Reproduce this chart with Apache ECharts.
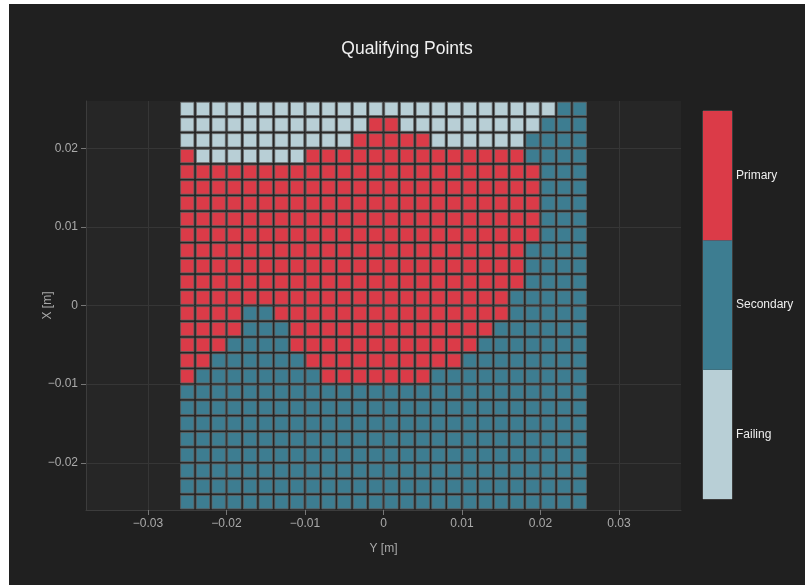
<!DOCTYPE html>
<html><head><meta charset="utf-8">
<script src="https://cdn.jsdelivr.net/npm/echarts@6/dist/echarts.min.js"></script>
<style>
html,body{margin:0;padding:0;background:#ffffff;}
#chart{position:absolute;left:9px;top:4px;width:796px;height:581px;}
</style></head><body><div id="chart"></div>
<script>
// Category labels (index 0,1,2) and codes used in the grid rows
const categories = ['Failing', 'Secondary', 'Primary'];
const categoryCodes = ['F', 'S', 'P'];
const categoryColors = ['#b8cfd6', '#3d7d91', '#db3b48'];

// Cell centres along Y [m] (horizontal axis)
const yPositions = [-0.025, -0.023, -0.021, -0.019, -0.017, -0.015, -0.013, -0.011, -0.009, -0.007, -0.005, -0.003, -0.001,
                     0.001, 0.003, 0.005, 0.007, 0.009, 0.011, 0.013, 0.015, 0.017, 0.019, 0.021, 0.023, 0.025];
// Cell centres along X [m] (vertical axis), top row first
const xPositions = [0.025, 0.023, 0.021, 0.019, 0.017, 0.015, 0.013, 0.011, 0.009, 0.007, 0.005, 0.003, 0.001,
                    -0.001, -0.003, -0.005, -0.007, -0.009, -0.011, -0.013, -0.015, -0.017, -0.019, -0.021, -0.023, -0.025];
const cellSize = 0.002;

// Classification of each point: one string per row (top to bottom), one char per column (left to right)
const gridRows = [
  'FFFFFFFFFFFFFFFFFFFFFFFFSS',
  'FFFFFFFFFFFFPPFFFFFFFFFSSS',
  'FFFFFFFFFFFPPPPPFFFFFFSSSS',
  'PFFFFFFFPPPPPPPPPPPPPPSSSS',
  'PPPPPPPPPPPPPPPPPPPPPPPSSS',
  'PPPPPPPPPPPPPPPPPPPPPPPSSS',
  'PPPPPPPPPPPPPPPPPPPPPPPSSS',
  'PPPPPPPPPPPPPPPPPPPPPPPSSS',
  'PPPPPPPPPPPPPPPPPPPPPPPSSS',
  'PPPPPPPPPPPPPPPPPPPPPPSSSS',
  'PPPPPPPPPPPPPPPPPPPPPPSSSS',
  'PPPPPPPPPPPPPPPPPPPPPPSSSS',
  'PPPPPPPPPPPPPPPPPPPPPSSSSS',
  'PPPPSSPPPPPPPPPPPPPPPSSSSS',
  'PPPPSSSPPPPPPPPPPPPPSSSSSS',
  'PPPSSSSPPPPPPPPPPPPSSSSSSS',
  'PPSSSSSSPPPPPPPPPPSSSSSSSS',
  'PSSSSSSSSPPPPPPPSSSSSSSSSS',
  'SSSSSSSSSSSSSSSSSSSSSSSSSS',
  'SSSSSSSSSSSSSSSSSSSSSSSSSS',
  'SSSSSSSSSSSSSSSSSSSSSSSSSS',
  'SSSSSSSSSSSSSSSSSSSSSSSSSS',
  'SSSSSSSSSSSSSSSSSSSSSSSSSS',
  'SSSSSSSSSSSSSSSSSSSSSSSSSS',
  'SSSSSSSSSSSSSSSSSSSSSSSSSS',
  'SSSSSSSSSSSSSSSSSSSSSSSSSS'
];

// Tick values
const xTicks = [-0.03, -0.02, -0.01, 0, 0.01, 0.02, 0.03];
const yTicks = [-0.02, -0.01, 0, 0.01, 0.02];

const data = [];
gridRows.forEach(function (row, r) {
  for (let c = 0; c < row.length; c++) {
    data.push([yPositions[c], xPositions[r], categoryCodes.indexOf(row[c])]);
  }
});

function fmt(v) {
  if (v === 0) return '0';
  return (v < 0 ? '\u2212' : '') + String(Math.abs(v));
}

const font = "'Liberation Sans', Arial, sans-serif";
const chart = echarts.init(document.getElementById('chart'));
chart.setOption({
  backgroundColor: '#202020',
  animation: false,
  title: {
    text: 'Qualifying Points',
    left: 'center',
    top: 31,
    padding: [5, 0, 5, 7],
    textStyle: { color: '#f0f0f0', fontSize: 17.5, fontWeight: 'normal', fontFamily: font }
  },
  grid: [
    { left: 77, top: 97, width: 595, height: 409, show: true, backgroundColor: '#262626', borderWidth: 0 },
    { left: 694, top: 107, width: 29, height: 388, show: true, backgroundColor: 'transparent', borderColor: '#5a5a5a', borderWidth: 1 }
  ],
  xAxis: [
    {
      type: 'value', gridIndex: 0, min: -0.0379, max: 0.0379,
      name: 'Y [m]', nameLocation: 'middle', nameGap: 33, nameMoveOverlap: false,
      nameTextStyle: { color: '#aaaaaa', fontSize: 12, fontFamily: font },
      axisLine: { show: true, onZero: false, lineStyle: { color: '#3c3c3c' } },
      axisTick: { show: true, length: 5, customValues: xTicks, lineStyle: { color: '#777' } },
      axisLabel: { customValues: xTicks, formatter: fmt, color: '#aaaaaa', fontSize: 12, margin: 8, fontFamily: font },
      splitLine: { show: true, lineStyle: { color: '#363636' } }
    },
    { type: 'value', gridIndex: 1, min: 0, max: 1, show: false }
  ],
  yAxis: [
    {
      type: 'value', gridIndex: 0, min: -0.026, max: 0.026,
      name: 'X [m]', nameLocation: 'middle', nameGap: 32, nameRotate: 90, nameMoveOverlap: false,
      nameTextStyle: { color: '#aaaaaa', fontSize: 12, fontFamily: font },
      axisLine: { show: true, onZero: false, lineStyle: { color: '#3c3c3c' } },
      axisTick: { show: true, length: 5, customValues: yTicks, lineStyle: { color: '#777' } },
      axisLabel: { customValues: yTicks, formatter: fmt, color: '#aaaaaa', fontSize: 12, margin: 8, fontFamily: font },
      splitLine: { show: true, lineStyle: { color: '#363636' } }
    },
    {
      type: 'category', gridIndex: 1, position: 'right', data: categories,
      axisLine: { show: false }, axisTick: { show: false }, splitLine: { show: false },
      axisLabel: { color: '#eeeeee', fontSize: 12, margin: 4, fontFamily: font }
    }
  ],
  series: [
    {
      type: 'custom',
      xAxisIndex: 0, yAxisIndex: 0,
      clip: true,
      silent: true,
      data: data,
      renderItem: function (params, api) {
        const x = api.value(0), y = api.value(1), k = api.value(2);
        const p0 = api.coord([x - cellSize / 2, y + cellSize / 2]);
        const p1 = api.coord([x + cellSize / 2, y - cellSize / 2]);
        const inset = 1.2;
        return {
          type: 'rect',
          shape: { x: p0[0] + inset, y: p0[1] + inset, width: p1[0] - p0[0] - 2 * inset, height: p1[1] - p0[1] - 2 * inset },
          style: { fill: categoryColors[k], stroke: 'rgba(100,100,100,0.75)', lineWidth: 1 }
        };
      }
    },
    {
      type: 'bar',
      xAxisIndex: 1, yAxisIndex: 1,
      silent: true,
      barWidth: '100%',
      data: categories.map(function (c, i) { return { value: 1, itemStyle: { color: categoryColors[i] } }; })
    }
  ]
});
</script></body></html>
